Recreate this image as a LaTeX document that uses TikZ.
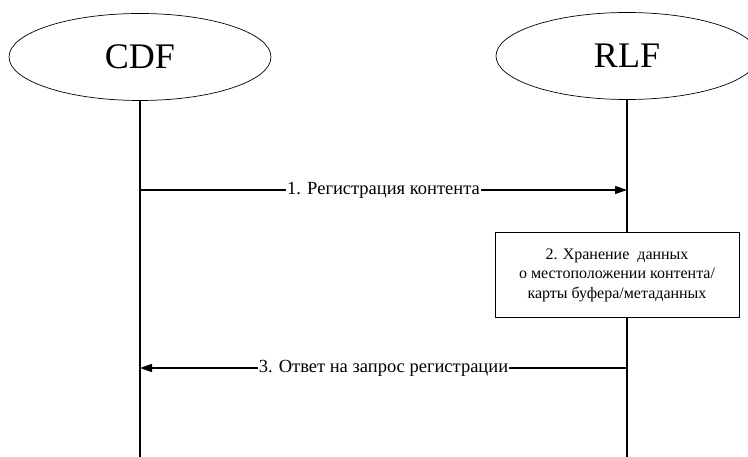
\documentclass[tikz,border=0pt]{standalone}
\usepackage{fontspec}
\setmainfont{Liberation Serif}
\usetikzlibrary{arrows.meta,shapes.geometric}
\begin{document}
\begin{tikzpicture}[x=1pt,y=-1pt,
  entity/.style={draw,ellipse,line width=0.7pt,minimum width=262pt,minimum height=87pt,inner sep=0pt,font=\fontsize{36}{40}\selectfont},
  lifeline/.style={line width=1.2pt},
  msg/.style={line width=1.2pt,-{Triangle[length=12pt,width=8pt]}},
  msglabel/.style={fill=white,inner sep=1pt,font=\fontsize{18.5}{22}\selectfont},
  actionbox/.style={draw,fill=white,line width=0.9pt,minimum width=244pt,minimum height=85pt,align=center,font=\fontsize{16}{19.5}\selectfont}]
\useasboundingbox (0,0) rectangle (748,457);
% participants
\node[entity] (cdf) at (140,57) {CDF};
\node[entity] (rlf) at (627,56) {RLF};
\coordinate (cdfend) at (140,457);
\coordinate (rlfend) at (627,457);
% lifelines
\draw[lifeline] (cdf.south) -- (cdfend);
\draw[lifeline] (rlf.south) -- (rlfend);
% message anchors on the lifelines
\coordinate (m1a) at (140,190);
\coordinate (m1b) at (627,190);
\coordinate (m3a) at (627,368);
\coordinate (m3b) at (140,368);
\draw[msg] (m1a) -- node[msglabel] {1. Регистрация контента} (m1b);
\node[actionbox] (store) at (617,275) {2. Хранение\ \ данных\\о местоположении контента/\\карты буфера/метаданных};
\draw[msg] (m3a) -- node[msglabel] {3. Ответ на запрос регистрации} (m3b);
\end{tikzpicture}
\end{document}
